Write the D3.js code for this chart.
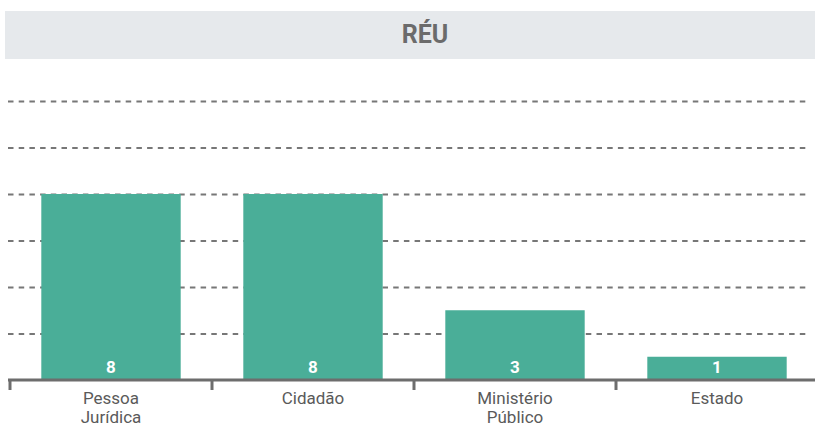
<!DOCTYPE html>
<html>
<head>
<meta charset="utf-8">
<script src="https://cdn.jsdelivr.net/npm/d3@7"></script>
<style>
  body { margin: 0; background: #fff; }
  svg { display: block; font-family: Roboto, "DejaVu Sans", sans-serif; }
</style>
</head>
<body>
<svg id="mainsvg" width="815" height="427"></svg>
<script>
// data
const categories = ['Pessoa Jurídica', 'Cidadão', 'Ministério Público', 'Estado'];
const labelLines = [['Pessoa', 'Jurídica'], ['Cidadão'], ['Ministério', 'Público'], ['Estado']];
const values = [8, 8, 3, 1];
const yTicks = [0, 2, 4, 6, 8, 10, 12];
const title = 'RÉU';

const svg = d3.select('#mainsvg');
const width = +svg.attr('width');
const height = +svg.attr('height');

const barColor = '#4aae98';
const axisColor = '#6d6d6d';
const textColor = '#5a5a5a';

// title band
svg.append('rect')
  .attr('x', 5).attr('y', 11)
  .attr('width', width - 5).attr('height', 48)
  .attr('fill', '#e6e9ec');

svg.append('text')
  .attr('x', 425).attr('y', 43)
  .attr('text-anchor', 'middle')
  .attr('font-size', '25px')
  .attr('font-weight', 'bold')
  .attr('fill', '#6b6b6b')
  .text(title);

// scales
const xScale = d3.scaleBand()
  .domain(categories)
  .range([10, 818])
  .paddingInner(0.31)
  .paddingOuter(0.155);

const yScale = d3.scaleLinear()
  .domain([0, 12])
  .range([380, 101]);

// gridlines
const grid = svg.append('g')
  .call(d3.axisLeft(yScale).tickValues(yTicks.filter(d => d > 0)).tickSize(0).tickFormat(''));
grid.select('.domain').remove();
grid.selectAll('.tick line')
  .attr('x1', 8).attr('x2', 810)
  .attr('stroke', '#777')
  .attr('stroke-width', 2)
  .attr('stroke-dasharray', '5.5,5.2');

// bars
svg.selectAll('.bar')
  .data(values)
  .join('rect')
  .attr('class', 'bar')
  .attr('x', (d, i) => xScale(categories[i]))
  .attr('y', d => yScale(d))
  .attr('width', xScale.bandwidth())
  .attr('height', d => yScale(0) - yScale(d))
  .attr('fill', barColor);

// value labels
svg.selectAll('.val')
  .data(values)
  .join('text')
  .attr('class', 'val')
  .attr('x', (d, i) => xScale(categories[i]) + xScale.bandwidth() / 2)
  .attr('y', 373)
  .attr('text-anchor', 'middle')
  .attr('font-size', '17px')
  .attr('font-weight', 'bold')
  .attr('fill', '#fff')
  .text(d => d);

// x axis baseline with boundary ticks
const step = xScale.step();
const bounds = d3.range(categories.length + 1).map(i => 10 + i * step);
const xAxisG = svg.append('g');
xAxisG.append('line')
  .attr('x1', 8).attr('x2', width)
  .attr('y1', yScale(0)).attr('y2', yScale(0))
  .attr('stroke', axisColor)
  .attr('stroke-width', 3);
xAxisG.selectAll('.btick')
  .data(bounds)
  .join('line')
  .attr('class', 'btick')
  .attr('x1', d => d).attr('x2', d => d)
  .attr('y1', yScale(0)).attr('y2', yScale(0) + 10)
  .attr('stroke', axisColor)
  .attr('stroke-width', 3);

// category labels
const labels = svg.selectAll('.cat')
  .data(categories)
  .join('text')
  .attr('class', 'cat')
  .attr('x', d => xScale(d) + xScale.bandwidth() / 2)
  .attr('y', 404)
  .attr('text-anchor', 'middle')
  .attr('font-size', '17px')
  .attr('fill', textColor);
labels.selectAll('tspan')
  .data((d, i) => labelLines[i])
  .join('tspan')
  .attr('x', function() { return this.parentNode.getAttribute('x'); })
  .attr('dy', (d, i) => i === 0 ? 0 : 19)
  .text(d => d);
</script>
</body>
</html>
